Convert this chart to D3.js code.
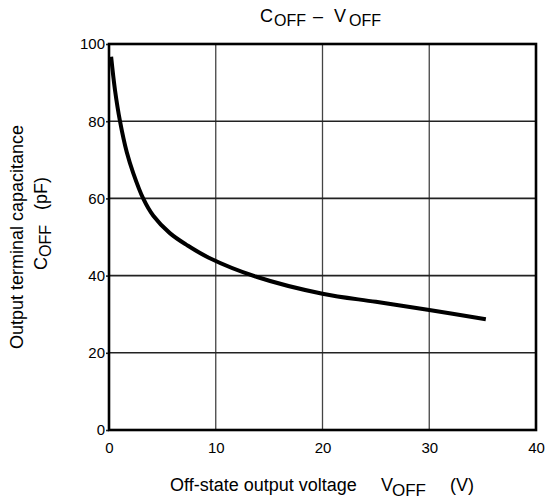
<!DOCTYPE html>
<html>
<head>
<meta charset="utf-8">
<script src="https://cdn.jsdelivr.net/npm/d3@7"></script>
<style>
  body { margin: 0; background: #fff; }
  svg { font-family: "Liberation Sans", Arial, sans-serif; }
</style>
</head>
<body>
<div id="chart"></div>
<script>
const vOff = [0.2, 0.56, 1.03, 1.66, 2.28, 3.2, 4.15, 5.7, 7.3, 9.3, 13.8, 20, 25, 30, 35.3];
const cOff = [96.7, 88.1, 80, 72.0, 66.5, 60, 55.5, 51, 47.9, 44.7, 39.7, 35.3, 33.2, 31.1, 28.7];
const xTicks = [0, 10, 20, 30, 40];
const yTicks = [0, 20, 40, 60, 80, 100];

const width = 550;
const height = 501;

const x = d3.scaleLinear().domain([0, 40]).range([109, 536]);
const y = d3.scaleLinear().domain([0, 100]).range([430, 44]);

const svg = d3.select("#chart").append("svg")
  .attr("width", width)
  .attr("height", height);

// grid
svg.append("g").selectAll("line")
  .data(xTicks.slice(1, -1))
  .enter().append("line")
  .attr("x1", d => x(d)).attr("x2", d => x(d))
  .attr("y1", y(0)).attr("y2", y(100))
  .attr("stroke", "#444").attr("stroke-width", 1.3);

svg.append("g").selectAll("line")
  .data(yTicks.slice(1, -1))
  .enter().append("line")
  .attr("x1", x(0)).attr("x2", x(40))
  .attr("y1", d => y(d)).attr("y2", d => y(d))
  .attr("stroke", "#222").attr("stroke-width", 1.6);

// axes (labels + small ticks on the left)
const yAxis = svg.append("g")
  .attr("transform", "translate(" + x(0) + ",0)")
  .call(d3.axisLeft(y).tickValues(yTicks).tickSize(3).tickPadding(1));
yAxis.select(".domain").remove();

const xAxis = svg.append("g")
  .attr("transform", "translate(0," + y(0) + ")")
  .call(d3.axisBottom(x).tickValues(xTicks).tickSize(0).tickPadding(12));
xAxis.select(".domain").remove();

svg.selectAll(".tick text")
  .attr("font-family", "Liberation Sans, Arial, sans-serif")
  .attr("font-size", 15)
  .attr("fill", "#000");
svg.selectAll(".tick line").attr("stroke", "#222").attr("stroke-width", 1.6);

// frame
svg.append("rect")
  .attr("x", x(0)).attr("y", y(100))
  .attr("width", x(40) - x(0)).attr("height", y(0) - y(100))
  .attr("fill", "none").attr("stroke", "#000").attr("stroke-width", 2.6);

// curve
const pts = vOff.map((v, i) => [v, cOff[i]]);
svg.append("path")
  .datum(pts)
  .attr("fill", "none")
  .attr("stroke", "#000")
  .attr("stroke-width", 4)
  .attr("stroke-linejoin", "round")
  .attr("d", d3.line()
    .x(d => x(d[0]))
    .y(d => y(d[1]))
    .curve(d3.curveCatmullRom.alpha(0.5)));

// title
const title = svg.append("text").attr("y", 22).attr("font-size", 18).attr("fill", "#000");
title.append("tspan").attr("x", 260).text("C");
title.append("tspan").attr("x", 274).attr("dy", 4).attr("font-size", 16).text("OFF");
title.append("tspan").attr("x", 313).attr("dy", -4).text("–");
title.append("tspan").attr("x", 334).text("V");
title.append("tspan").attr("x", 349).attr("dy", 4).attr("font-size", 16).text("OFF");

// x label
const xl = svg.append("text").attr("y", 491).attr("font-size", 18).attr("fill", "#000");
xl.append("tspan").attr("x", 170).text("Off-state output voltage");
xl.append("tspan").attr("x", 381).text("V");
xl.append("tspan").attr("x", 392).attr("dy", 5).attr("font-size", 17).text("OFF");
xl.append("tspan").attr("x", 450).attr("dy", -5).text("(V)");

// y label
svg.append("text")
  .attr("transform", "translate(23,237) rotate(-90)")
  .attr("text-anchor", "middle")
  .attr("font-size", 18).attr("fill", "#000")
  .text("Output terminal capacitance");

const yl = svg.append("text")
  .attr("transform", "translate(47,270) rotate(-90)")
  .attr("font-size", 18).attr("fill", "#000");
yl.append("tspan").attr("x", 0).text("C");
yl.append("tspan").attr("x", 13).attr("dy", 4).attr("font-size", 16).text("OFF");
yl.append("tspan").attr("x", 60).attr("dy", -4).text("(pF)");
</script>
</body>
</html>
